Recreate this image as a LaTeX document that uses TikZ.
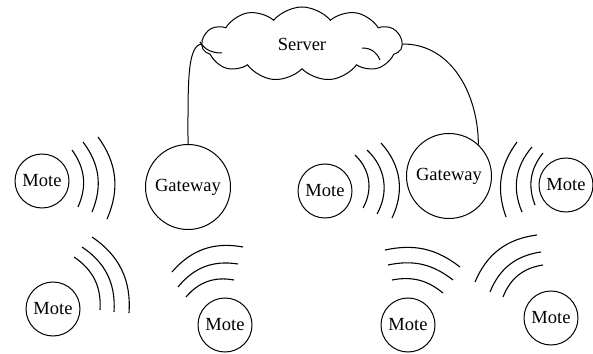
\documentclass[tikz,border=0pt]{standalone}
\usepackage{fontspec}
\setmainfont{Liberation Serif}
\usetikzlibrary{shapes.symbols}
\tikzset{
  mote/.style={draw,circle,minimum size=54pt,inner sep=0pt},
  gateway/.style={draw,circle,minimum size=85pt,inner sep=0pt},
  wave/.style={line width=1.1pt},
}
\begin{document}
\begin{tikzpicture}[x=1pt,y=1pt,line width=1pt,font=\fontsize{18.5}{22}\selectfont]
  \useasboundingbox (0,0) rectangle (593,353);
  \node[cloud,draw,cloud puffs=11,cloud puff arc=100,aspect=2.8,minimum width=200pt,minimum height=74pt,inner sep=0pt] (cloud) at (302,309) {Server};
  \draw (200,311) .. controls (205,303) and (212,300) .. (222,300);
  \draw (362,305) .. controls (372,305) and (377,300) .. (380,293);
  \node[gateway] (gw1) at (188,166) {Gateway};
  \node[gateway] (gw2) at (449,177) {Gateway};
  \node[mote] (m1) at (42,172) {Mote};
  \node[mote] (m2) at (53,44) {Mote};
  \node[mote] (m3) at (225,28) {Mote};
  \node[mote] (m4) at (325,162) {Mote};
  \node[mote] (m5) at (566,168) {Mote};
  \node[mote] (m6) at (408,28) {Mote};
  \node[mote] (m7) at (551,35) {Mote};
  \draw (cloud.west) .. controls +(-14,-3) and +(0,60) .. (gw1.north);
  \draw (cloud.east) to[out=0,in=90] (gw2.47);
  \draw[wave] (72,203) to[bend left=30] (78,146);
  \draw[wave] (83,211) to[bend left=30] (92,141);
  \draw[wave] (98,216) to[bend left=30] (107,134);
  \draw[wave] (355,198) to[bend left=38] (363,145);
  \draw[wave] (367,203) to[bend left=38] (377,139);
  \draw[wave] (381,210) to[bend left=34] (392,135);
  \draw[wave] (517,211) to[bend right=28] (506,136);
  \draw[wave] (532,206) to[bend right=32] (522,141);
  \draw[wave] (543,200) to[bend right=30] (535,148);
  \draw[wave] (74,96) to[bend left=30] (100,43);
  \draw[wave] (82,106) to[bend left=30] (114,41);
  \draw[wave] (92,116) to[bend left=30] (129,40);
  \draw[wave] (172,81) to[bend left=30] (243,106);
  \draw[wave] (178,66) to[bend left=30] (238,89);
  \draw[wave] (186,56) to[bend left=30] (234,73);
  \draw[wave] (385,103) to[bend left=25] (460,86);
  \draw[wave] (388,88) to[bend left=25] (453,73);
  \draw[wave] (392,73) to[bend left=25] (443,60);
  \draw[wave] (475,71) to[bend left=30] (537,118);
  \draw[wave] (490,61) to[bend left=30] (541,101);
  \draw[wave] (503,56) to[bend left=30] (543,88);
\end{tikzpicture}
\end{document}
